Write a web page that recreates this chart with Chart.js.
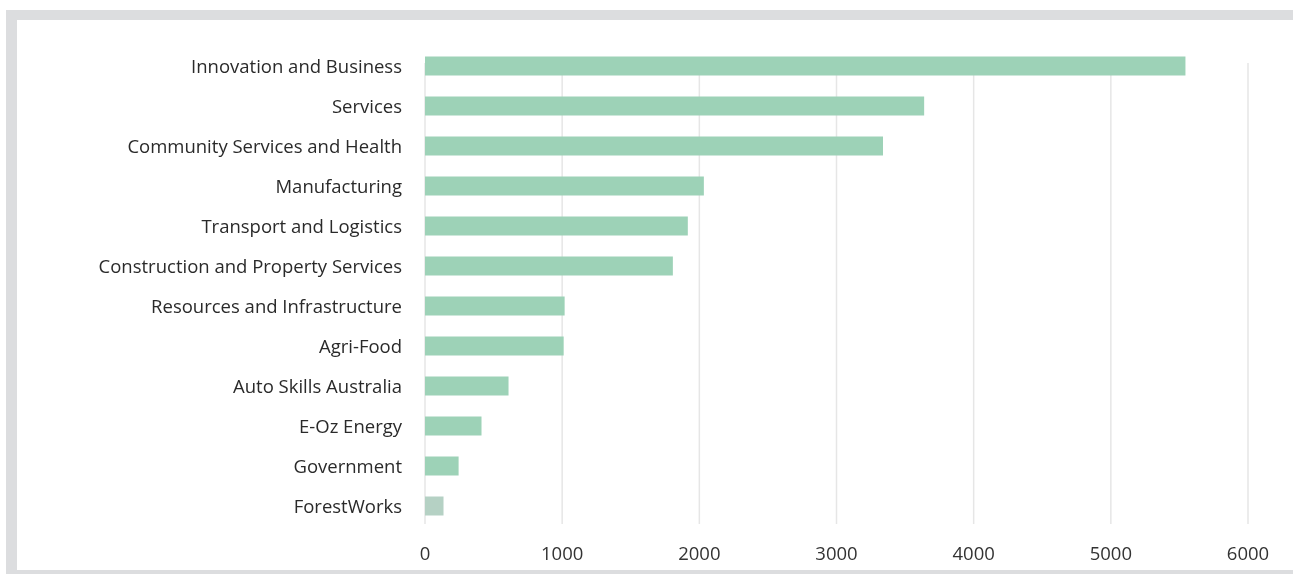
<!DOCTYPE html>
<html>
<head>
<meta charset="utf-8">
<script src="https://cdn.jsdelivr.net/npm/chart.js@4"></script>
<style>
  html, body { margin: 0; padding: 0; background: #fff; overflow: hidden; }
  .frame {
    position: absolute; left: 6px; top: 10px;
    width: 1276px; height: 550px;
    border-top: 10px solid #dcdddf;
    border-left: 11px solid #dcdddf;
    border-bottom: 10px solid #dcdddf;
    background: #fff;
  }
  .frame canvas { display: block; }
</style>
</head>
<body>
<div class="frame"><canvas id="chart" width="1276" height="550"></canvas></div>
<script>
// Enrolments by industry skills council
const categories = [
  "Innovation and Business",
  "Services",
  "Community Services and Health",
  "Manufacturing",
  "Transport and Logistics",
  "Construction and Property Services",
  "Resources and Infrastructure",
  "Agri-Food",
  "Auto Skills Australia",
  "E-Oz Energy",
  "Government",
  "ForestWorks"
];
const enrolments = [5544, 3639, 3339, 2033, 1916, 1807, 1018, 1011, 609, 412, 245, 135];
const xTicks = [0, 1000, 2000, 3000, 4000, 5000, 6000];

const barColors = categories.map((c, i) => i === categories.length - 1 ? "#b5d1c4" : "#9dd2b7");

// vertical guide lines at each x tick, drawn beneath the bars
const guideLines = {
  id: "guideLines",
  beforeDatasetsDraw(chart) {
    const { ctx, chartArea, scales } = chart;
    ctx.save();
    ctx.strokeStyle = "#e6e6e6";
    ctx.lineWidth = 1.5;
    xTicks.forEach(v => {
      const x = scales.x.getPixelForValue(v);
      ctx.beginPath();
      ctx.moveTo(x, chartArea.top + 17);
      ctx.lineTo(x, chartArea.bottom - 2);
      ctx.stroke();
    });
    ctx.restore();
  }
};

const labelFont = { family: "Open Sans", size: 18.5 };

new Chart(document.getElementById("chart"), {
  type: "bar",
  data: {
    labels: categories,
    datasets: [{
      data: enrolments,
      backgroundColor: barColors,
      borderWidth: 0,
      barPercentage: 0.475,
      categoryPercentage: 1
    }]
  },
  options: {
    indexAxis: "y",
    responsive: false,
    animation: false,
    layout: { padding: { top: 26, right: 45, bottom: 0, left: 0 } },
    plugins: { legend: { display: false }, tooltip: { enabled: false } },
    scales: {
      x: {
        min: 0, max: 6000,
        afterBuildTicks(scale) { scale.ticks = xTicks.map(v => ({ value: v })); },
        afterFit(scale) { scale.height = 44; },
        grid: { display: false },
        border: { display: false },
        ticks: {
          padding: 10,
          color: "#333",
          font: labelFont,
          maxRotation: 0,
          callback: (v) => String(v)
        }
      },
      y: {
        afterFit(scale) { scale.width = 408; },
        grid: {
          display: true,
          drawOnChartArea: false,
          drawTicks: true,
          tickLength: 20,
          tickColor: "rgba(0,0,0,0)"
        },
        border: { display: false },
        ticks: {
          padding: 3,
          labelOffset: 2,
          color: "#2a2a2a",
          font: labelFont
        }
      }
    }
  },
  plugins: [guideLines]
});
</script>
</body>
</html>
